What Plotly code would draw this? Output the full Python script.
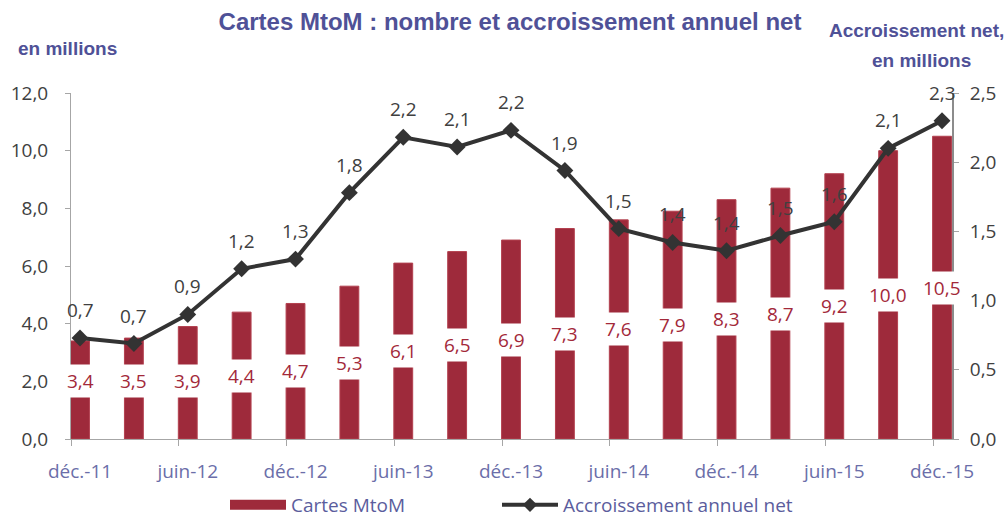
import plotly.graph_objects as go

# ---- data ----
categories = ["déc.-11", "mars-12", "juin-12", "sept.-12", "déc.-12", "mars-13", "juin-13",
              "sept.-13", "déc.-13", "mars-14", "juin-14", "sept.-14", "déc.-14", "mars-15",
              "juin-15", "sept.-15", "déc.-15"]
cartes = [3.4, 3.5, 3.9, 4.4, 4.7, 5.3, 6.1, 6.5, 6.9, 7.3, 7.6, 7.9, 8.3, 8.7, 9.2, 10.0, 10.5]
accroissement = [0.73, 0.69, 0.90, 1.23, 1.30, 1.78, 2.18, 2.11, 2.23, 1.94, 1.52, 1.42,
                 1.36, 1.47, 1.57, 2.10, 2.30]
left_ticks = [0, 2, 4, 6, 8, 10, 12]
right_ticks = [0, 0.5, 1.0, 1.5, 2.0, 2.5]

BAR = "#9E2A3B"
LINE = "#333333"
TITLE_C = "#4F5197"
XTICK_C = "#6B6EA9"
AXIS_C = "#A6A6A6"
NUM_C = "#404040"
NUMFONT = "Open Sans"

idx = list(range(len(categories)))
lab_idx = idx[::2]
lab_txt = categories[::2]
xr = [-0.167, len(categories) - 1 + 0.185]


def fr(v):
    return f"{v:.1f}".replace(".", ",")


fig = go.Figure()
fig.add_trace(go.Bar(x=idx, y=cartes, width=0.35, name="Cartes MtoM",
                     marker=dict(color=BAR, line=dict(color="#B3404F", width=1)),
                     showlegend=False, yaxis="y", xaxis="x"))
fig.add_trace(go.Scatter(x=idx, y=accroissement, yaxis="y2", xaxis="x",
                         mode="lines+markers", name="Accroissement annuel net",
                         line=dict(color=LINE, width=4),
                         marker=dict(symbol="diamond", size=13, color=LINE),
                         showlegend=False))
# legend proxies
fig.add_trace(go.Scatter(x=[None], y=[None], mode="lines", name="Cartes MtoM",
                         line=dict(color=BAR, width=13), xaxis="x2", yaxis="y",
                         legend="legend"))
fig.add_trace(go.Scatter(x=[None], y=[None], mode="lines+markers",
                         name="Accroissement annuel net",
                         line=dict(color=LINE, width=4),
                         marker=dict(symbol="diamond", size=11, color=LINE),
                         xaxis="x2", yaxis="y", legend="legend2"))

ann = []
for i, v in zip(idx, cartes):
    ann.append(dict(x=i, y=max(v / 2, 2.0), xref="x", yref="y", text=fr(v),
                    showarrow=False, bgcolor="white", borderpad=3,
                    font=dict(family=NUMFONT, size=19, color="#A3293A")))
for i, v in zip(idx, accroissement):
    ann.append(dict(x=i, y=v, xref="x", yref="y2", text=fr(v), showarrow=False,
                    yshift=28, font=dict(family=NUMFONT, size=19, color=NUM_C)))
ann.append(dict(x=-0.004, y=1.130, xref="paper", yref="paper", text="<b>en millions</b>",
                showarrow=False, xanchor="center", yanchor="middle",
                font=dict(family="Liberation Sans", size=19, color=TITLE_C)))
ann.append(dict(x=0.960, y=1.182, xref="paper", yref="paper", text="<b>Accroissement net,</b>",
                showarrow=False, xanchor="center", yanchor="middle",
                font=dict(family="Liberation Sans", size=19, color=TITLE_C)))
ann.append(dict(x=0.965, y=1.0925, xref="paper", yref="paper", text="<b>en millions</b>",
                showarrow=False, xanchor="center", yanchor="middle",
                font=dict(family="Liberation Sans", size=19, color=TITLE_C)))

legend_common = dict(orientation="h", xref="container", yref="container",
                     y=1 - 505 / 518, xanchor="left", yanchor="middle",
                     itemwidth=56,
                     font=dict(family=NUMFONT, size=19, color="#5B5D9D"),
                     bgcolor="rgba(0,0,0,0)")

fig.update_layout(
    width=1008, height=518, autosize=False,
    margin=dict(l=71, r=56, t=93, b=79, autoexpand=False),
    paper_bgcolor="white", plot_bgcolor="white",
    separators=", ",
    title=dict(text="<b>Cartes MtoM : nombre et accroissement annuel net</b>",
               x=510 / 1008, y=1 - 22 / 518, xanchor="center", yanchor="middle",
               font=dict(family="Liberation Sans", size=24, color=TITLE_C)),
    xaxis=dict(range=xr, tickvals=lab_idx, ticktext=lab_txt, ticks="outside",
               ticklen=15, tickcolor="rgba(0,0,0,0)", showline=True, linecolor=AXIS_C,
               linewidth=1, showgrid=False, zeroline=False,
               tickfont=dict(family=NUMFONT, size=19, color=XTICK_C)),
    xaxis2=dict(range=xr, overlaying="x", anchor="y", side="bottom",
                tickvals=[i + xr[0] for i in lab_idx], ticks="outside", ticklen=6,
                tickcolor=AXIS_C, showticklabels=False, showline=False, showgrid=False,
                zeroline=False),
    yaxis=dict(range=[0, 12], tickvals=left_ticks, tickformat=".1f", ticks="outside",
               ticklen=5, tickcolor=AXIS_C, showline=True, linecolor=AXIS_C,
               showgrid=False, zeroline=False, ticklabelstandoff=13,
               tickfont=dict(family=NUMFONT, size=19, color=NUM_C)),
    yaxis2=dict(range=[0, 2.5], tickvals=right_ticks, tickformat=".1f", overlaying="y",
                side="right", anchor="x", ticks="outside", ticklen=5, tickcolor=AXIS_C,
                showline=True, linecolor="#8C8C8C", linewidth=2, showgrid=False,
                zeroline=False, ticklabelstandoff=7,
                tickfont=dict(family=NUMFONT, size=19, color=NUM_C)),
    legend=dict(x=225 / 1008, **legend_common),
    legend2=dict(x=497 / 1008, **legend_common),
    annotations=ann,
)

fig.write_html("out.html")
